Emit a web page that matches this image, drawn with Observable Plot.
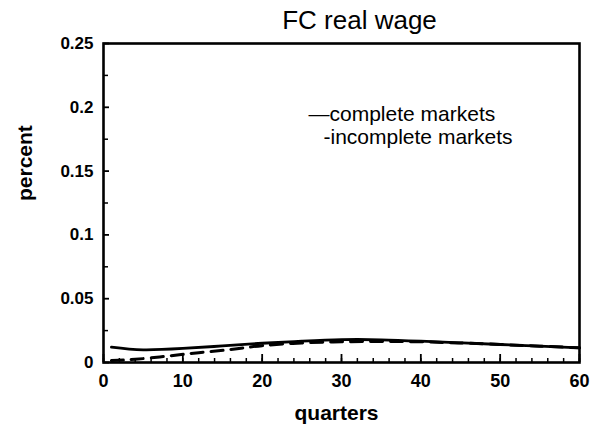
<!DOCTYPE html>
<html>
<head>
<meta charset="utf-8">
<script src="https://cdn.jsdelivr.net/npm/d3@7"></script>
<script src="https://cdn.jsdelivr.net/npm/@observablehq/plot@0.6"></script>
<style>
  html, body { margin: 0; padding: 0; background: #fff; }
  #chart svg { display: block; }
</style>
</head>
<body>
<div id="chart"></div>
<script>
// ---- data ----
const completeQ = [1, 5, 10, 15, 20, 25, 30, 35, 40, 45, 50, 55, 60];
const completeV = [0.0120, 0.0099, 0.0110, 0.0130, 0.0151, 0.0167, 0.0179, 0.0178, 0.0167, 0.0154, 0.0141, 0.0128, 0.0115];
const incompleteQ = [1, 4, 8, 12, 16, 20, 25, 30, 35, 40, 45, 50, 55, 60];
const incompleteV = [0.0015, 0.0025, 0.0050, 0.0077, 0.0102, 0.0132, 0.0153, 0.0162, 0.0165, 0.0162, 0.0153, 0.0141, 0.0128, 0.0115];
const xTicks = [0, 10, 20, 30, 40, 50, 60];
const xMinorTicks = d3.range(0, 61, 2);
const yTicks = [0, 0.05, 0.1, 0.15, 0.2, 0.25];
const yMinorTicks = [0.025, 0.075, 0.125, 0.175, 0.225];
const yTickLabels = ["0", "0.05", "0.1", "0.15", "0.2", "0.25"];
const seriesNames = ["complete markets", "incomplete markets"];
const legendLabels = ["—complete markets", "-incomplete markets"];
const titleText = "FC real wage";
const xLabel = "quarters";
const yLabel = "percent";

const complete = completeQ.map((q, i) => ({q, v: completeV[i]}));
const incomplete = incompleteQ.map((q, i) => ({q, v: incompleteV[i]}));

const font = "'Liberation Sans', Arial, Helvetica, sans-serif";
const W = 593, H = 430, ML = 103, MR = 14, MT = 43, MB = 68;
const FW = W - ML - MR, FH = H - MT - MB;

const chart = Plot.plot({
  width: W,
  height: H,
  marginLeft: ML,
  marginRight: MR,
  marginTop: MT,
  marginBottom: MB,
  style: {fontFamily: font, background: "#fff", color: "#000", overflow: "visible"},
  x: {domain: [0, 60], label: null},
  y: {domain: [0, 0.25], label: null},
  marks: [
    // inward ticks along the bottom and left edges
    Plot.tickX(xMinorTicks, {x: d => d, insetTop: FH - 4, stroke: "#000", strokeWidth: 1.5}),
    Plot.tickX(xTicks, {x: d => d, insetTop: FH - 8, stroke: "#000", strokeWidth: 1.8}),
    Plot.tickY(yMinorTicks, {y: d => d, insetRight: FW - 5, stroke: "#000", strokeWidth: 1.5}),
    Plot.tickY(yTicks, {y: d => d, insetRight: FW - 6, stroke: "#000", strokeWidth: 1.8}),
    // tick labels
    Plot.axisX({ticks: xTicks, tickSize: 0, tickPadding: 12, label: null,
      fontSize: 18, fontWeight: "bold"}),
    Plot.axisY({ticks: yTicks, tickSize: 0, tickPadding: 10, label: null,
      tickFormat: (d, i) => yTickLabels[i], fontSize: 17, fontWeight: "bold"}),
    // series
    Plot.line(complete, {x: "q", y: "v", stroke: "#000", strokeWidth: 2.8, curve: "natural"}),
    Plot.line(incomplete, {x: "q", y: "v", stroke: "#000", strokeWidth: 3, strokeDasharray: "12,8", curve: "natural"}),
    // legend text
    Plot.text([legendLabels[0]], {frameAnchor: "top-left", dx: 205, dy: 77, text: d => d,
      textAnchor: "start", fontSize: 21, letterSpacing: 0.6, lineAnchor: "bottom"}),
    Plot.text([legendLabels[1]], {frameAnchor: "top-left", dx: 220, dy: 100, text: d => d,
      textAnchor: "start", fontSize: 21, letterSpacing: 0.6, lineAnchor: "bottom"}),
    // title
    Plot.text([titleText], {frameAnchor: "top", dx: 18, dy: -15, text: d => d,
      fontSize: 26, letterSpacing: 0.5, lineAnchor: "bottom"}),
    // axis labels
    Plot.text([xLabel], {frameAnchor: "bottom", dx: -5, dy: 57, text: d => d,
      fontSize: 21, fontWeight: "bold", lineAnchor: "bottom"}),
    Plot.text([yLabel], {frameAnchor: "left", dx: -78, dy: -2, rotate: -90, text: d => d,
      fontSize: 21, fontWeight: "bold"}),
    // frame
    Plot.frame({stroke: "#000", strokeWidth: 2.6})
  ]
});

document.getElementById("chart").appendChild(chart);
</script>
</body>
</html>
